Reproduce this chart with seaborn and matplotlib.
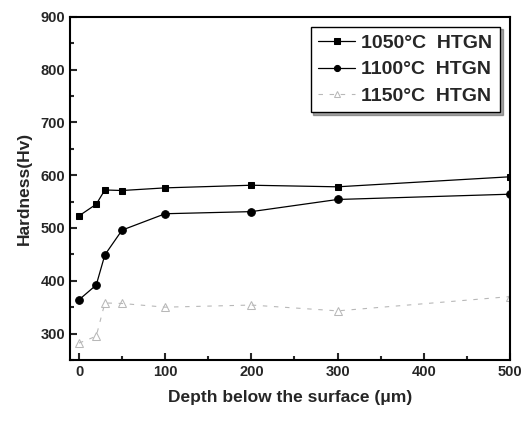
import pandas as pd
import matplotlib
matplotlib.use("Agg")
import matplotlib.pyplot as plt
import seaborn as sns
from matplotlib.ticker import MultipleLocator

depth = [0, 20, 30, 50, 100, 200, 300, 500]
hv_1050 = [523, 545, 572, 571, 576, 581, 578, 597]
hv_1100 = [364, 392, 449, 496, 527, 531, 554, 564]
hv_1150 = [282, 295, 358, 357, 350, 354, 343, 370]
labels = ["1050\u00b0C  HTGN", "1100\u00b0C  HTGN", "1150\u00b0C  HTGN"]

sns.set_style("ticks")
plt.rcParams["font.family"] = ["Liberation Sans", "DejaVu Sans"]
plt.rcParams["font.weight"] = "bold"

frames = []
for lab, vals in zip(labels, [hv_1050, hv_1100, hv_1150]):
    frames.append(pd.DataFrame({"depth": depth, "hv": vals, "series": lab}))
data = pd.concat(frames, ignore_index=True)

fig = plt.figure(figsize=(5.3, 4.21), dpi=100)
ax = fig.add_axes([0.132, 0.145, 0.830, 0.815])

styles = {
    labels[0]: dict(color="black", marker="s", markersize=5, linestyle="-", linewidth=0.9),
    labels[1]: dict(color="black", marker="o", markersize=5.5, linestyle="-", linewidth=0.9),
    labels[2]: dict(color="#b8b8b8", marker="^", markersize=6, markerfacecolor="none",
                    linestyle=(0, (4, 6)), linewidth=0.8),
}
for lab in labels:
    sub = data[data["series"] == lab]
    st = styles[lab]
    sns.lineplot(x="depth", y="hv", data=sub, ax=ax, label=lab,
                 color=st["color"], marker=st["marker"], markersize=st["markersize"],
                 linestyle=st["linestyle"], linewidth=st["linewidth"],
                 markerfacecolor=st.get("markerfacecolor", st["color"]),
                 markeredgecolor=st["color"])

ax.set_xlim(-10.5, 500)
ax.set_ylim(250, 900)
ax.xaxis.set_major_locator(MultipleLocator(100))
ax.xaxis.set_minor_locator(MultipleLocator(50))
ax.yaxis.set_major_locator(MultipleLocator(100))
ax.yaxis.set_minor_locator(MultipleLocator(50))
ax.tick_params(which="both", direction="in", width=1.5, top=False, right=False)
ax.tick_params(which="major", length=5, labelsize=10.5)
ax.tick_params(which="minor", length=3)
for lbl in ax.get_xticklabels() + ax.get_yticklabels():
    lbl.set_fontweight("bold")
for sp in ax.spines.values():
    sp.set_linewidth(1.5)
    sp.set_color("black")

ax.set_xlabel("Depth below the surface (\u03bcm)", fontsize=12.5, fontweight="bold", labelpad=8)
ax.set_ylabel("Hardness(Hv)", fontsize=12.5, fontweight="bold", labelpad=6)

leg = ax.legend(loc="upper right", fontsize=14, frameon=True, fancybox=False, shadow=True,
                handlelength=1.9, borderaxespad=0.5, labelspacing=0.45, handletextpad=0.3,
                markerscale=0.8)
leg.get_frame().set_edgecolor("black")
leg.get_frame().set_linewidth(1.0)
for t in leg.get_texts():
    t.set_fontweight("bold")

fig.savefig("out.png", dpi=100)
